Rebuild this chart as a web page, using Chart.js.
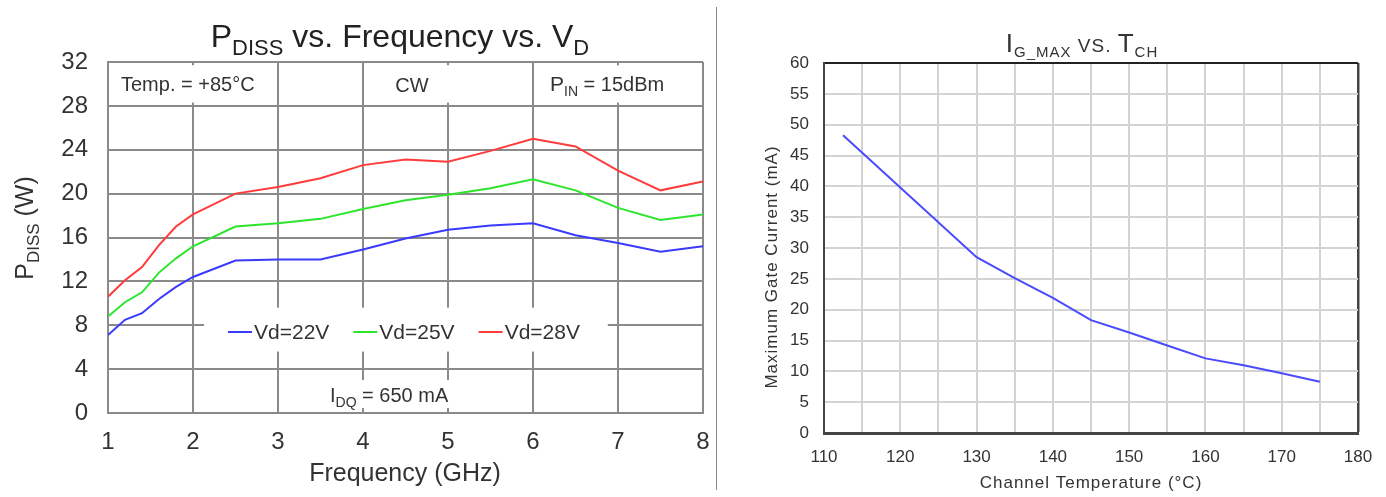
<!DOCTYPE html>
<html>
<head>
<meta charset="utf-8">
<script src="https://cdn.jsdelivr.net/npm/chart.js@4.4.1/dist/chart.umd.min.js"></script>
<style>
  html, body { margin: 0; padding: 0; background: #fff; }
  body { width: 1386px; height: 497px; position: relative; overflow: hidden; }
  .panel { position: absolute; top: 0; height: 497px; }
  #left-panel { left: 0; width: 716px; }
  #right-panel { left: 718px; width: 668px; }
  #divider { position: absolute; left: 716px; top: 7px; width: 1px; height: 483px; background: #8c8c8c; }
</style>
</head>
<body>
<div class="panel" id="left-panel"><canvas id="chart-pdiss"></canvas></div>
<div id="divider"></div>
<div class="panel" id="right-panel"><canvas id="chart-igmax"></canvas></div>
<script>
// -- DATA ----------------------------------------------
const freqGHz = [1, 1.2, 1.4, 1.6, 1.8, 2, 2.5, 3, 3.5, 4, 4.5, 5, 5.5, 6, 6.5, 7, 7.5, 8];
const pdissVd22 = [7.1, 8.5, 9.1, 10.4, 11.5, 12.4, 13.9, 14.0, 14.0, 14.9, 15.9, 16.7, 17.1, 17.3, 16.2, 15.5, 14.7, 15.2];
const pdissVd25 = [8.8, 10.1, 11.0, 12.8, 14.1, 15.2, 17.0, 17.3, 17.7, 18.6, 19.4, 19.9, 20.5, 21.3, 20.3, 18.7, 17.6, 18.1];
const pdissVd28 = [10.6, 12.1, 13.3, 15.3, 17.0, 18.1, 20.0, 20.6, 21.4, 22.6, 23.1, 22.9, 23.9, 25.0, 24.3, 22.1, 20.3, 21.1];
const vdLabels = ["Vd=22V", "Vd=25V", "Vd=28V"];
const freqTicks = [1, 2, 3, 4, 5, 6, 7, 8];
const pdissTicks = [0, 4, 8, 12, 16, 20, 24, 28, 32];

const chTempC = [112.5, 130, 135, 140, 145, 150, 155, 160, 165, 170, 175];
const igMaxMA = [48.3, 28.5, 25.1, 21.9, 18.3, 16.3, 14.2, 12.1, 11.0, 9.7, 8.3];
const tempTicks = [110, 115, 120, 125, 130, 135, 140, 145, 150, 155, 160, 165, 170, 175, 180];
const currentTicks = [0, 5, 10, 15, 20, 25, 30, 35, 40, 45, 50, 55, 60];

// -- HELPERS -------------------------------------------
const FONT = "'Liberation Sans', Arial, sans-serif";
const TEXT = "#333333";

function points(xs, ys) {
  return xs.map((x, i) => ({ x: x, y: ys[i] }));
}

function useTicks(list) {
  return (scale) => { scale.ticks = list.map((v) => ({ value: v })); };
}

// parts: [text, fontSize, baselineShift]
function drawRich(ctx, parts, x, y, align) {
  let width = 0;
  parts.forEach((p) => {
    ctx.font = `${p[1]}px ${FONT}`;
    width += ctx.measureText(p[0]).width;
  });
  let cx = align === "center" ? x - width / 2 : align === "right" ? x - width : x;
  ctx.textAlign = "left";
  ctx.textBaseline = "alphabetic";
  parts.forEach((p) => {
    ctx.font = `${p[1]}px ${FONT}`;
    ctx.fillText(p[0], cx, y + (p[2] || 0));
    cx += ctx.measureText(p[0]).width;
  });
}

// -- LEFT: PDISS vs FREQUENCY ---------------------------
const pdissDecor = {
  id: "pdissDecor",
  beforeDatasetsDraw(chart) {
    const { ctx, scales: { x, y } } = chart;
    ctx.save();
    // white panels that break the grid behind the in-plot notes
    ctx.fillStyle = "#ffffff";
    [
      [1.06, 2.94, 28.3, 31.7],
      [4.06, 5.94, 28.3, 31.7],
      [6.06, 7.94, 28.3, 31.7],
      [2.13, 6.88, 5.6, 9.6],
      [3.3, 5.2, 0.45, 3.0]
    ].forEach((b) => {
      const l = x.getPixelForValue(b[0]);
      const r = x.getPixelForValue(b[1]);
      const t = y.getPixelForValue(b[3]);
      const btm = y.getPixelForValue(b[2]);
      ctx.fillRect(l, t, r - l, btm - t);
    });

    ctx.fillStyle = TEXT;
    drawRich(ctx, [["Temp. = +85°C", 20]], 121, 91, "left");
    drawRich(ctx, [["CW", 20]], 412, 92, "center");
    drawRich(ctx, [["P", 21], ["IN", 14, 5], [" = 15dBm", 20]], 550, 91, "left");
    drawRich(ctx, [["I", 20], ["DQ", 14, 5], [" = 650 mA", 20]], 330, 402, "left");

    // legend inside the plot
    let lx = 228;
    const ly = 332;
    chart.data.datasets.forEach((ds) => {
      ctx.strokeStyle = ds.borderColor;
      ctx.lineWidth = 2;
      ctx.beginPath();
      ctx.moveTo(lx, ly);
      ctx.lineTo(lx + 24, ly);
      ctx.stroke();
      ctx.fillStyle = TEXT;
      ctx.font = `21px ${FONT}`;
      ctx.textAlign = "left";
      ctx.textBaseline = "alphabetic";
      ctx.fillText(ds.label, lx + 26, ly + 7);
      lx += 26 + ctx.measureText(ds.label).width + 24;
    });
    ctx.restore();
  },
  afterDraw(chart) {
    const { ctx } = chart;
    ctx.save();
    ctx.fillStyle = "#222222";
    drawRich(ctx, [["P", 32], ["DISS", 22, 8], [" vs. Frequency vs. V", 32], ["D", 22, 8]], 400, 47, "center");
    ctx.fillStyle = TEXT;
    drawRich(ctx, [["Frequency (GHz)", 25]], 405, 481, "center");
    ctx.translate(33, 228);
    ctx.rotate(-Math.PI / 2);
    drawRich(ctx, [["P", 25], ["DISS", 17, 6], [" (W)", 25]], 0, 0, "center");
    ctx.restore();
  }
};

function createPdissChart() {
  const ctx = document.getElementById("chart-pdiss");
  const colors = ["#3a3aff", "#2ee52e", "#ff3b3b"];
  const series = [pdissVd22, pdissVd25, pdissVd28];
  return new Chart(ctx, {
    type: "line",
    data: {
      datasets: series.map((s, i) => ({
        label: vdLabels[i],
        data: points(freqGHz, s),
        borderColor: colors[i],
        borderWidth: 2,
        pointRadius: 0,
        tension: 0,
        fill: false
      }))
    },
    options: {
      responsive: true,
      maintainAspectRatio: false,
      animation: false,
      layout: { padding: { top: 62, right: 13, left: 0, bottom: 0 } },
      scales: {
        x: {
          type: "linear",
          min: 1,
          max: 8,
          afterBuildTicks: useTicks(freqTicks),
          afterFit: (s) => { s.height = 84; },
          ticks: { color: TEXT, font: { size: 24, family: FONT }, padding: 0, maxRotation: 0 },
          grid: { color: "#8a8a8a", lineWidth: 2, drawTicks: true, tickLength: 15, tickColor: "rgba(0,0,0,0)" },
          border: { color: "#8a8a8a", width: 2 }
        },
        y: {
          min: 0,
          max: 32,
          afterBuildTicks: useTicks(pdissTicks),
          afterFit: (s) => { s.width = 108; },
          ticks: { color: TEXT, font: { size: 24, family: FONT }, padding: 20 },
          grid: { color: "#8a8a8a", lineWidth: 2, drawTicks: false },
          border: { color: "#8a8a8a", width: 2 }
        }
      },
      plugins: {
        legend: { display: false },
        tooltip: { enabled: false }
      }
    },
    plugins: [pdissDecor]
  });
}

// -- RIGHT: IG_MAX vs TCH ------------------------------
const igmaxDecor = {
  id: "igmaxDecor",
  afterDraw(chart) {
    const { ctx } = chart;
    ctx.save();
    ctx.fillStyle = TEXT;
    ctx.letterSpacing = "1px";
    drawRich(ctx, [["I", 26], ["G_MAX", 15, 5], [" VS. ", 19], ["T", 26], ["CH", 15, 5]], 364, 52, "center");
    drawRich(ctx, [["Channel Temperature (°C)", 17]], 373, 488, "center");
    ctx.translate(59, 267);
    ctx.rotate(-Math.PI / 2);
    drawRich(ctx, [["Maximum Gate Current (mA)", 17]], 0, 0, "center");
    ctx.restore();
  }
};

function createIgmaxChart() {
  const ctx = document.getElementById("chart-igmax");
  return new Chart(ctx, {
    type: "line",
    data: {
      datasets: [
        {
          label: "IG_MAX",
          data: points(chTempC, igMaxMA),
          borderColor: "#4a4aff",
          borderWidth: 2,
          pointRadius: 0,
          tension: 0,
          fill: false
        }
      ]
    },
    options: {
      responsive: true,
      maintainAspectRatio: false,
      animation: false,
      layout: { padding: { top: 63, right: 28, left: 0, bottom: 0 } },
      scales: {
        x: {
          type: "linear",
          min: 110,
          max: 180,
          afterBuildTicks: useTicks(tempTicks),
          afterFit: (s) => { s.height = 64; },
          ticks: {
            color: TEXT,
            font: { size: 17, family: FONT },
            padding: 0,
            maxRotation: 0,
            autoSkip: false,
            callback: (v) => (v % 10 === 0 ? String(v) : "")
          },
          grid: {
            color: (c) => (c.tick && c.tick.value === 180 ? "#444444" : "#d3d3d3"),
            lineWidth: (c) => (c.tick && c.tick.value === 180 ? 2.5 : 2),
            drawTicks: true,
            tickLength: 14,
            tickColor: "rgba(0,0,0,0)"
          },
          border: { color: "#444444", width: 3 }
        },
        y: {
          min: 0,
          max: 60,
          afterBuildTicks: useTicks(currentTicks),
          afterFit: (s) => { s.width = 106; },
          ticks: { color: TEXT, font: { size: 17, family: FONT }, padding: 15, autoSkip: false },
          grid: {
            color: (c) => (c.tick && c.tick.value === 60 ? "#222222" : "#d3d3d3"),
            lineWidth: 2,
            drawTicks: false
          },
          border: { color: "#444444", width: 2 }
        }
      },
      plugins: {
        legend: { display: false },
        tooltip: { enabled: false }
      }
    },
    plugins: [igmaxDecor]
  });
}

// -- RENDER --------------------------------------------
if (typeof Chart !== "undefined") {
  createPdissChart();
  createIgmaxChart();
}
</script>
</body>
</html>
